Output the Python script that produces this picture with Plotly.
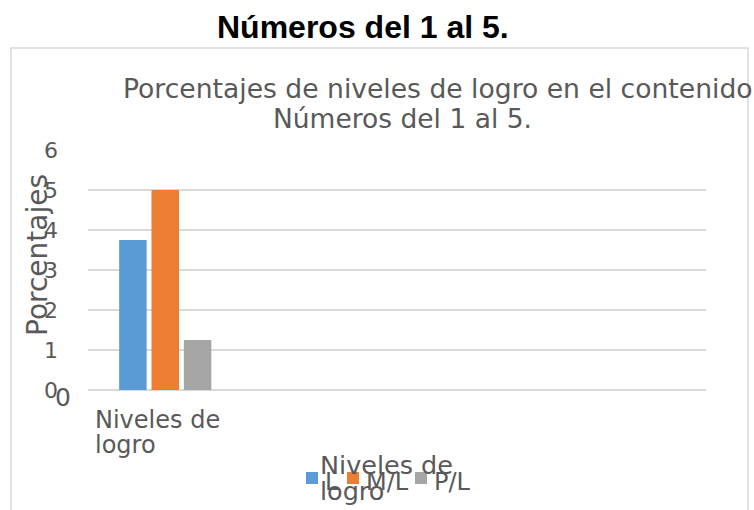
import plotly.graph_objects as go

# Data
series_names = ["L", "M/L", "P/L"]
series_values = [3.75, 5.0, 1.25]
series_colors = ["#5B9BD5", "#ED7D31", "#A5A5A5"]
category_label = ["Niveles de", "logro"]
axis_title_x = ["Niveles de", "logro"]
axis_title_y = "Porcentajes"
y_ticks = [0, 1, 2, 3, 4, 5, 6]
main_title = "Números del 1 al 5."
chart_title = ["Porcentajes de niveles de logro en el contenido", "Números del 1 al 5."]

W, H = 754, 510
GRAY = "#595959"
FONT = "DejaVu Sans"


def px_x(x):
    return x / W


def px_y(y):
    return 1 - y / H


fig = go.Figure()
for name, val, col in zip(series_names, series_values, series_colors):
    fig.add_trace(go.Bar(
        x=[0], y=[val], name=name,
        marker=dict(color=col, line=dict(width=0)),
        showlegend=False,
    ))

fig.update_layout(
    width=W, height=H,
    margin=dict(l=0, r=0, t=0, b=0, autoexpand=False),
    paper_bgcolor="white", plot_bgcolor="white",
    barmode="group", bargap=0.372, bargroupgap=0.15,
    font=dict(family=FONT, color=GRAY, size=20),
    showlegend=False,
    xaxis=dict(
        domain=[px_x(88), px_x(706)], range=[-0.5, 3.5],
        showticklabels=False, showgrid=False, zeroline=False,
        showline=False, ticks="", automargin=False,
    ),
    yaxis=dict(
        domain=[px_y(390), px_y(150)], range=[0, 6],
        tickvals=y_ticks, ticktext=[str(v) for v in y_ticks],
        showgrid=True, gridcolor="#D9D9D9", gridwidth=1.5,
        zeroline=True, zerolinecolor="#D9D9D9", zerolinewidth=1.5,
        showline=False, ticks="", ticklabelstandoff=29, automargin=False,
        tickfont=dict(family=FONT, size=22, color=GRAY),
    ),
)

# Outer chart frame
fig.add_shape(type="rect", xref="paper", yref="paper",
              x0=px_x(11), x1=px_x(748), y0=px_y(515), y1=px_y(48),
              line=dict(color="#D9D9D9", width=1.5), fillcolor="rgba(0,0,0,0)",
              layer="below")

annotations = [
    dict(text="<b>" + main_title + "</b>", x=px_x(363), y=px_y(27),
         font=dict(family="Liberation Sans", size=32, color="black")),
    dict(text=chart_title[0], x=px_x(121), y=px_y(88), xanchor="left",
         font=dict(family=FONT, size=26.6, color=GRAY)),
    dict(text=chart_title[1], x=px_x(403), y=px_y(118),
         font=dict(family=FONT, size=26.5, color=GRAY)),
    dict(text=axis_title_y, x=px_x(37), y=px_y(255), textangle=-90,
         font=dict(family=FONT, size=28, color=GRAY)),
    dict(text="0", x=px_x(63), y=px_y(397),
         font=dict(family=FONT, size=25, color=GRAY)),
    dict(text=category_label[0], x=px_x(93), y=px_y(420), xanchor="left",
         font=dict(family=FONT, size=24, color=GRAY)),
    dict(text=category_label[1], x=px_x(93), y=px_y(445), xanchor="left",
         font=dict(family=FONT, size=24, color=GRAY)),
    dict(text=axis_title_x[0], x=px_x(318), y=px_y(465), xanchor="left",
         font=dict(family=FONT, size=25.5, color=GRAY)),
    dict(text=axis_title_x[1], x=px_x(318), y=px_y(491), xanchor="left",
         font=dict(family=FONT, size=25.5, color=GRAY)),
]

# Legend: colour swatch followed by the series name
legend_x = [306, 347, 415]
for name, col, lx in zip(series_names, series_colors, legend_x):
    fig.add_shape(type="rect", xref="paper", yref="paper",
                  x0=px_x(lx), x1=px_x(lx + 12), y0=px_y(484), y1=px_y(472),
                  line=dict(width=0), fillcolor=col)
    annotations.append(dict(text=name, x=px_x(lx + 17), y=px_y(482), xanchor="left",
                            font=dict(family=FONT, size=24, color=GRAY)))

for a in annotations:
    base = dict(xref="paper", yref="paper", showarrow=False,
                xanchor="center", yanchor="middle")
    base.update(a)
    fig.add_annotation(**base)

fig.write_html("out.html")
